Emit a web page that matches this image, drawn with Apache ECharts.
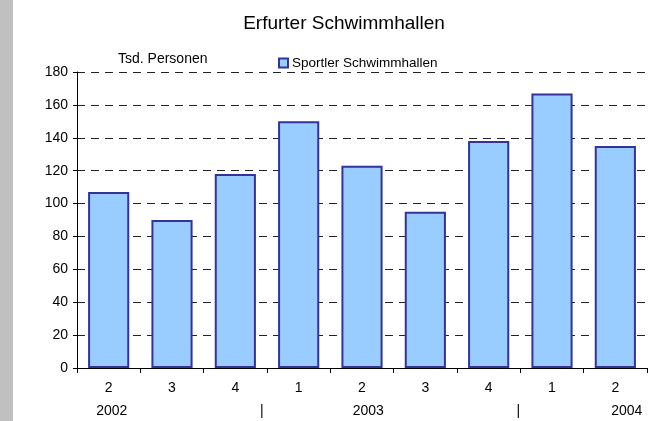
<!DOCTYPE html>
<html>
<head>
<meta charset="utf-8">
<script src="https://cdn.jsdelivr.net/npm/echarts@6/dist/echarts.min.js"></script>
<style>
    html, body { margin: 0; padding: 0; background: #fff; }
    #chart {
        width: 639px;
        height: 421px;
        border-left: 13px solid #c0c0c0;
    }
</style>
</head>
<body>
<div id="chart"></div>
<script>
// Quartale und Besucher (Tsd. Personen)
var quarters = ['2', '3', '4', '1', '2', '3', '4', '1', '2'];
var visitors = [107, 90, 118, 150, 123, 95, 138, 167, 135];

// zweite Zeile der Achse: Jahre und Trennstriche
var yearLabels = ['2002', '|', '2003', '|', '2004'];
var yearPos = [0.55, 2.92, 4.6, 6.97, 8.68];

var yTicks = { min: 0, max: 180, step: 20 };

var font = 'Liberation Sans, Arial, sans-serif';

var chart = echarts.init(document.getElementById('chart'));
var option = {
    animation: false,
    title: {
        text: 'Erfurter Schwimmhallen',
        left: 326,
        top: 9,
        textAlign: 'center',
        textStyle: { fontFamily: font, fontSize: 19, fontWeight: 'normal', color: '#000' }
    },
    legend: {
        data: ['Sportler Schwimmhallen'],
        left: 260,
        top: 51,
        icon: 'rect',
        itemWidth: 9,
        itemHeight: 9,
        textStyle: { fontFamily: font, fontSize: 13.5, color: '#000', padding: [0, 0, 0, -1] }
    },
    grid: { left: 64, right: 5, top: 72, bottom: 53 },
    xAxis: [
        {
            type: 'category',
            data: quarters,
            axisLine: { lineStyle: { color: '#000', width: 1 } },
            axisTick: { show: true, length: 5, lineStyle: { color: '#000' } },
            axisLabel: { color: '#000', fontFamily: font, fontSize: 14, margin: 13 }
        },
        {
            type: 'value',
            position: 'bottom',
            min: 0,
            max: 9,
            axisLine: { show: false },
            axisTick: { show: false },
            splitLine: { show: false },
            axisLabel: {
                customValues: yearPos,
                margin: 36,
                color: '#000',
                fontFamily: font,
                fontSize: 14,
                formatter: function (v) {
                    var i = yearPos.indexOf(v);
                    return i >= 0 ? yearLabels[i] : '';
                }
            }
        }
    ],
    yAxis: {
        type: 'value',
        min: yTicks.min,
        max: yTicks.max,
        interval: yTicks.step,
        name: 'Tsd. Personen',
        nameLocation: 'end',
        nameGap: 13,
        nameTextStyle: {
            fontFamily: font, fontSize: 14, color: '#000',
            align: 'left', verticalAlign: 'middle', padding: [0, 0, 0, 41]
        },
        axisLine: { show: true, lineStyle: { color: '#000', width: 1 } },
        axisTick: { show: true, length: 4, lineStyle: { color: '#000' } },
        axisLabel: { color: '#000', fontFamily: font, fontSize: 14, margin: 9 },
        splitLine: { show: true, lineStyle: { color: '#222', type: [8, 6], width: 1 } }
    },
    series: [{
        name: 'Sportler Schwimmhallen',
        type: 'bar',
        data: visitors,
        barCategoryGap: '35%',
        itemStyle: { color: '#99ccff', borderColor: '#333399', borderWidth: 2 }
    }]
};
chart.setOption(option);
</script>
</body>
</html>
